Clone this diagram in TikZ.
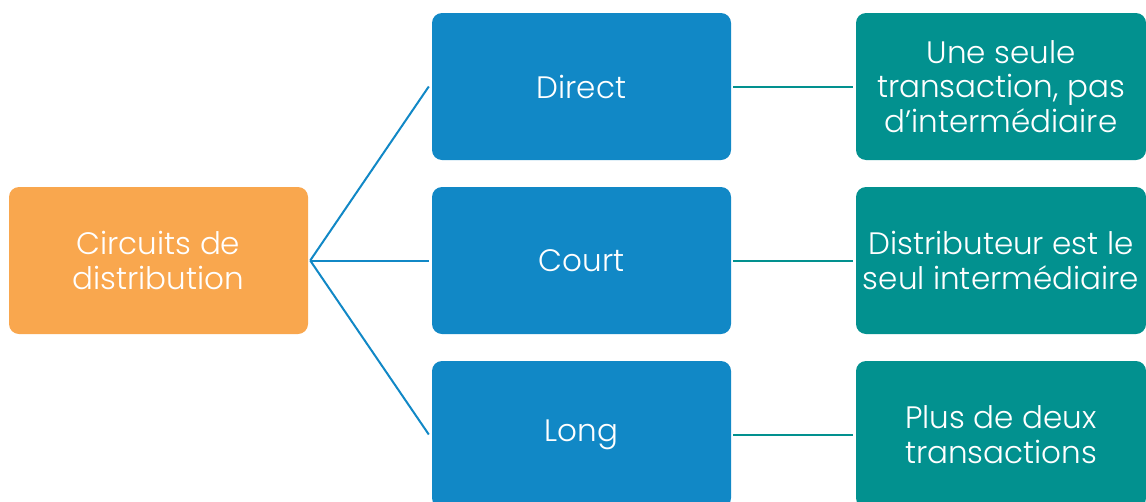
\documentclass[tikz,border=0pt]{standalone}
\usepackage{fontspec}
\setmainfont{Poppins}[UprightFont={* Light}]
\definecolor{orangebox}{HTML}{F9A74E}
\definecolor{bluebox}{HTML}{1188C6}
\definecolor{tealbox}{HTML}{02918F}
\begin{document}
\begin{tikzpicture}[x=1pt,y=-1pt,
  box/.style={rounded corners=10pt, minimum width=299pt, minimum height=147pt, inner sep=0pt, text=white, align=center, font=\fontsize{31}{34.5}\selectfont},
  obox/.style={box, fill=orangebox},
  bbox/.style={box, fill=bluebox},
  tbox/.style={box, fill=tealbox, minimum width=290pt},
  bline/.style={draw=bluebox, line width=2pt},
  tline/.style={draw=tealbox, line width=2pt}]
\useasboundingbox (0,0) rectangle (1146,501);
\clip (0,0) rectangle (1146,501);
\node[obox] (root) at (158.5,260.5) {Circuits de\\distribution};
\node[bbox] (direct) at (581.5,86.5) {Direct};
\node[bbox] (court) at (581.5,260.5) {Court};
\node[bbox] (long) at (581.5,434.5) {Long};
\node[tbox] (t1) at (1001,86.5) {Une seule\\transaction, pas\\d’intermédiaire};
\node[tbox] (t2) at (1001,260.5) {Distributeur est le\\seul intermédiaire};
\node[tbox] (t3) at (1001,434.5) {Plus de deux\\transactions};
\draw[bline] ([xshift=2pt]root.east) -- ([xshift=-3pt]direct.west);
\draw[bline] ([xshift=2pt]root.east) -- ([xshift=-3pt]court.west);
\draw[bline] ([xshift=2pt]root.east) -- ([xshift=-3pt]long.west);
\draw[tline] ([xshift=2pt]direct.east) -- ([xshift=-3pt]t1.west);
\draw[tline] ([xshift=2pt]court.east) -- ([xshift=-3pt]t2.west);
\draw[tline] ([xshift=2pt]long.east) -- ([xshift=-3pt]t3.west);
\end{tikzpicture}
\end{document}
